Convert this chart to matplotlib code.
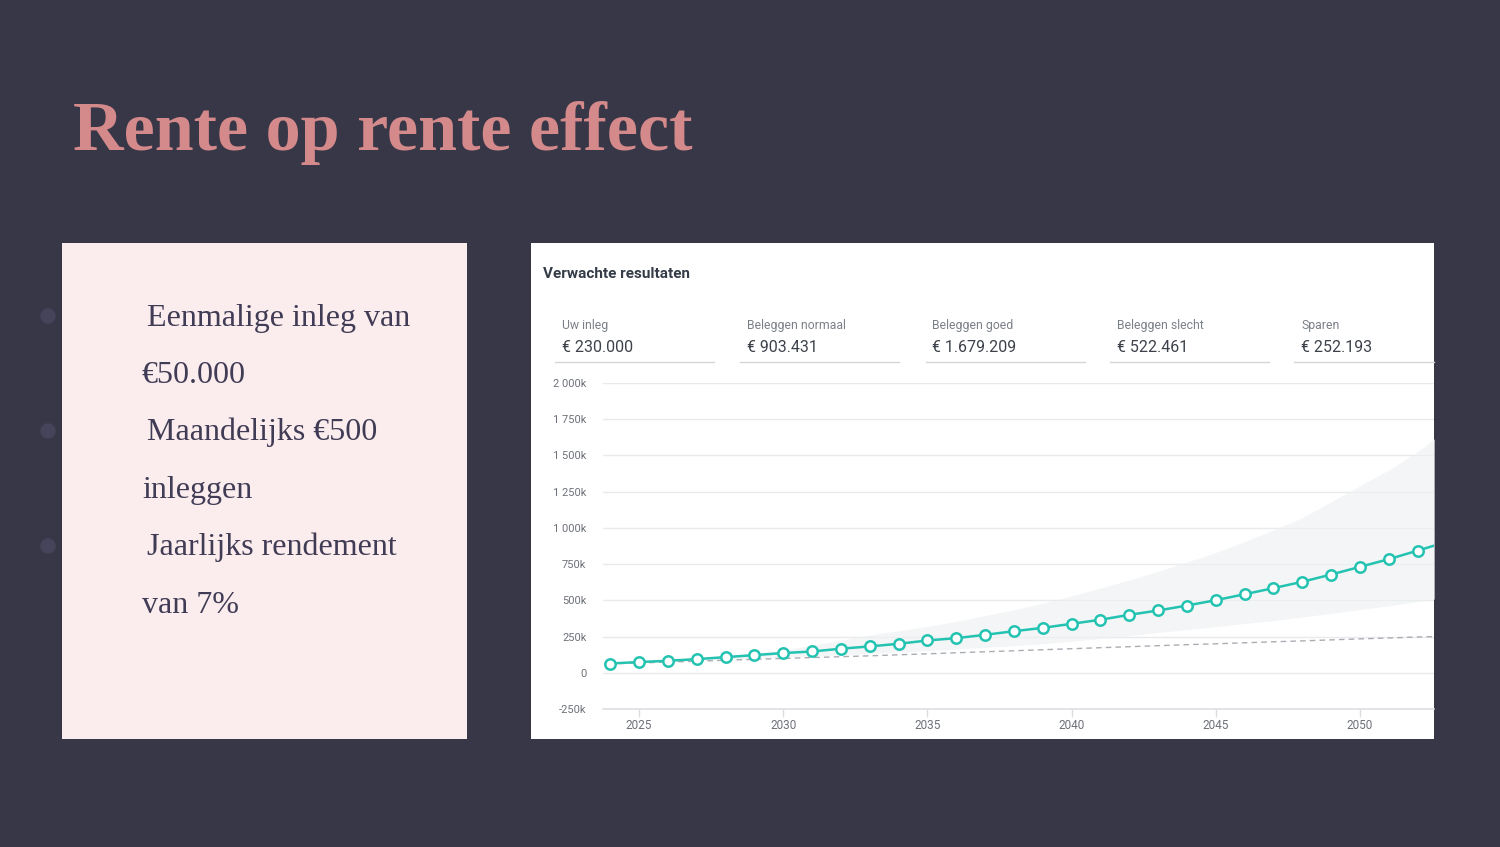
import matplotlib
matplotlib.use("Agg")
import matplotlib.pyplot as plt
from matplotlib.patches import Rectangle, Circle
from matplotlib.ticker import FixedLocator

# ---------------- data ----------------
title = "Rente op rente effect"
box_lines = ["Eenmalige inleg van", "€50.000", "Maandelijks €500", "inleggen",
             "Jaarlijks rendement", "van 7%"]
card_title = "Verwachte resultaten"
stat_labels = ["Uw inleg", "Beleggen normaal", "Beleggen goed", "Beleggen slecht", "Sparen"]
stat_values = ["€ 230.000", "€ 903.431", "€ 1.679.209", "€ 522.461", "€ 252.193"]

years = list(range(2024, 2054))
normaal = [64, 74, 83, 94, 108, 122, 136, 147, 166, 182, 200, 223, 239, 262, 287,
           310, 338, 366, 400, 430, 464, 501, 542, 584, 628, 678, 731, 784, 843, 903]
goed = [64, 76, 88, 102, 118, 136, 158, 190, 225, 262, 290, 320, 355, 395, 435,
        480, 530, 585, 640, 700, 765, 830, 905, 985, 1070, 1180, 1290, 1400, 1525, 1679]
slecht = [60, 68, 75, 83, 91, 99, 107, 115, 124, 133, 143, 153, 164, 175, 187,
          200, 218, 236, 256, 278, 298, 318, 340, 360, 385, 410, 436, 462, 490, 522]
sparen = [62, 68, 74, 80, 87, 93, 99, 105, 111, 117, 124, 131, 138, 145, 152,
          159, 166, 173, 180, 187, 194, 200, 207, 214, 220, 227, 234, 240, 247, 252]
ytick_vals = [-250, 0, 250, 500, 750, 1000, 1250, 1500, 1750, 2000]
ytick_labels = ["-250k", "0", "250k", "500k", "750k", "1 000k", "1 250k", "1 500k", "1 750k", "2 000k"]
xtick_vals = [2025, 2030, 2035, 2040, 2045, 2050]

# ---------------- layout ----------------
W, H = 1500, 847
fig = plt.figure(figsize=(W / 100, H / 100), dpi=100)
bg_col = "#383747"
fig.patch.set_facecolor(bg_col)

bg = fig.add_axes([0, 0, 1, 1])
bg.set_xlim(0, W)
bg.set_ylim(H, 0)
bg.axis("off")
bg.set_facecolor(bg_col)

# title
bg.text(73, 150, title, fontsize=50.5, fontweight="bold", color="#d4898b",
        family=["Liberation Serif", "DejaVu Serif"], va="baseline", ha="left")

# bullets behind box
for yb in (316, 431, 546):
    bg.add_patch(Circle((48, yb), 7, color="#45445a", zorder=1))

# pink text box
bg.add_patch(Rectangle((62, 243), 405, 496, facecolor="#fbeced", edgecolor="none", zorder=2))
baselines = [326, 383, 440, 498, 555, 613]
xs = [147, 142, 147, 142, 147, 142]
for txt, yb, xb in zip(box_lines, baselines, xs):
    bg.text(xb, yb, txt, fontsize=23, color="#403c55",
            family=["Liberation Serif", "DejaVu Serif"], va="baseline", ha="left", zorder=3)

# white chart card
bg.add_patch(Rectangle((531, 243), 903, 496, facecolor="white", edgecolor="none", zorder=2))
bg.text(543, 278, card_title, fontsize=11, fontweight="bold", color="#343c48",
        family=["Roboto", "DejaVu Sans"], va="baseline", ha="left", zorder=3)

stat_x = [562, 747, 932, 1117, 1301]
line_x = [(555, 714), (740, 899), (926, 1085), (1110, 1269), (1294, 1434)]
for lab, val, sx, (l0, l1) in zip(stat_labels, stat_values, stat_x, line_x):
    bg.text(sx, 329, lab, fontsize=8.8, color="#7b8088",
            family=["Roboto", "DejaVu Sans"], va="baseline", ha="left", zorder=3)
    bg.text(sx, 352, val, fontsize=11.5, color="#3d424a",
            family=["Roboto", "DejaVu Sans"], va="baseline", ha="left", zorder=3)
    bg.plot([l0, l1], [362, 362], color="#d3d6da", lw=1, zorder=3)

# ---------------- chart axes ----------------
ax_l, ax_r, ax_t, ax_b = 603, 1434, 383, 709
ax = fig.add_axes([ax_l / W, 1 - ax_b / H, (ax_r - ax_l) / W, (ax_b - ax_t) / H])
ax.set_facecolor("none")
ax.set_xlim(2023.75, 2052.57)
ax.set_ylim(-250, 2000)

ax.fill_between(years, slecht, goed, color="#eef1f2", alpha=0.65, lw=0, zorder=1)
ax.plot(years, sparen, color="#a9adb3", lw=1, ls=(0, (4, 3)), zorder=2)
teal = "#24c3b1"
ax.plot(years, normaal, color=teal, lw=1.8, marker="o", markersize=7.5,
        markerfacecolor="white", markeredgecolor=teal, markeredgewidth=1.8, zorder=4,
        clip_on=True)

ax.yaxis.set_major_locator(FixedLocator(ytick_vals))
ax.set_yticklabels(ytick_labels)
ax.xaxis.set_major_locator(FixedLocator(xtick_vals))
ax.set_xticklabels([str(v) for v in xtick_vals])
ax.grid(axis="y", color="#e8eaec", lw=1, zorder=0)
ax.set_axisbelow(True)
for s in ("top", "right", "left"):
    ax.spines[s].set_visible(False)
ax.spines["bottom"].set_color("#dcdfe2")
ax.spines["bottom"].set_linewidth(1.2)
ax.tick_params(axis="y", length=0, pad=12, labelsize=8, labelcolor="#6d7179")
ax.tick_params(axis="x", length=6, width=1, color="#dcdfe2", pad=1, labelsize=8.5,
               labelcolor="#6d7179")
for t in ax.get_xticklabels() + ax.get_yticklabels():
    t.set_family(["Roboto", "DejaVu Sans"])

fig.savefig("out.png", dpi=100, facecolor=bg_col)
